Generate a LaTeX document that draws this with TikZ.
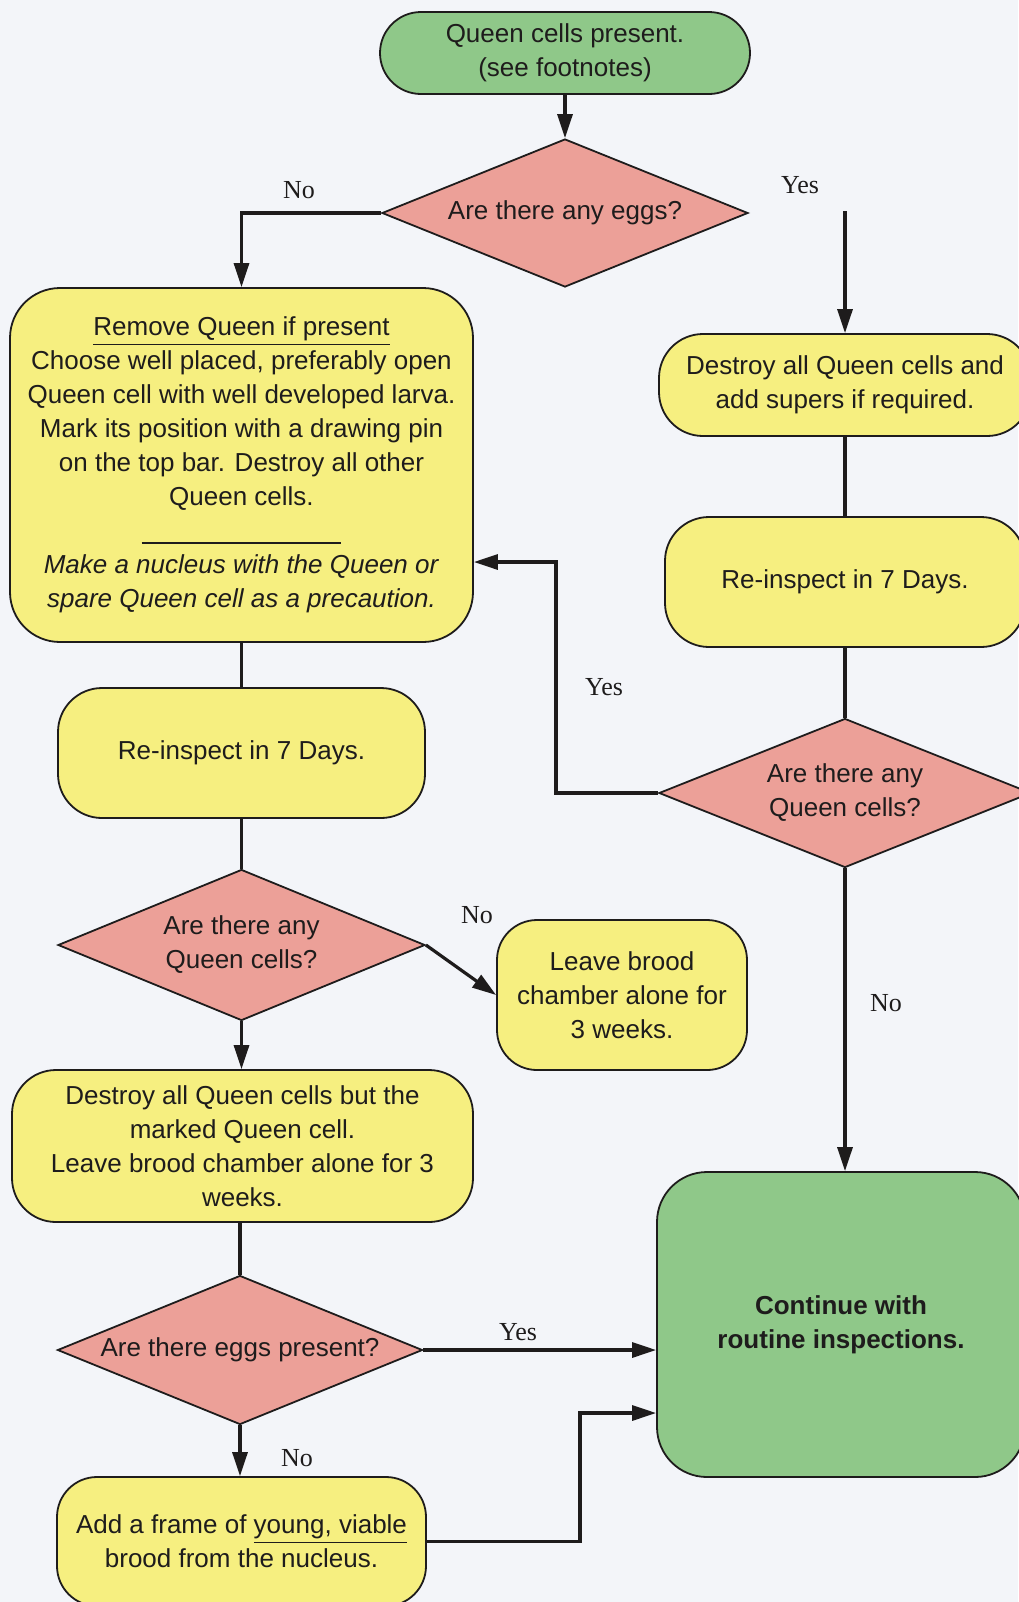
\documentclass[tikz,border=0pt]{standalone}
\usepackage{fontspec}
\setmainfont{Liberation Sans}
\newfontfamily\lblserif{Liberation Serif}
\usetikzlibrary{shapes.geometric,arrows.meta}
\definecolor{bgcol}{RGB}{243,245,249}
\definecolor{boxyellow}{RGB}{246,239,128}
\definecolor{boxgreen}{RGB}{143,200,137}
\definecolor{diapink}{RGB}{236,160,152}
\definecolor{inkcol}{RGB}{30,28,28}
\newcommand\fs{\fontsize{13pt}{17pt}\selectfont}
\tikzset{
  box/.style={draw=inkcol, text=inkcol, line width=0.9pt, rounded corners=22pt, align=center, inner sep=0pt, font=\fs},
  ybox/.style={box, fill=boxyellow},
  gbox/.style={box, fill=boxgreen},
  dia/.style={diamond, shape aspect=2.47, draw=inkcol, text=inkcol, line width=0.9pt, fill=diapink, inner sep=0pt, align=center, font=\fs},
  conn/.style={draw=inkcol, line width=1.6pt},
  arr/.style={conn, -{Triangle[length=12pt,width=7.5pt]}},
  lbl/.style={font=\lblserif\fontsize{13pt}{15pt}\selectfont, text=inkcol, inner sep=0pt},
}
\begin{document}
\begin{tikzpicture}[x=0.5pt,y=-0.5pt]
\useasboundingbox (0,0) rectangle (1018,1602);
\fill[bgcol] (0,0) rectangle (1018,1602);

% nodes
\node[gbox, rounded corners=20.5pt, minimum width=185pt, minimum height=41pt] (start) at (565,53) {Queen cells present.\\(see footnotes)};
\node[dia, minimum width=183pt, minimum height=74pt] (d1) at (565,213) {Are there any eggs?};

\node[ybox, rounded corners=25pt, minimum width=231.5pt, minimum height=177pt] (rem) at (241.5,465)
 {\underline{Remove Queen if present}\\
  Choose well placed, preferably open\\
  Queen cell with well developed larva.\\
  Mark its position with a drawing pin\\
  on the top bar. Destroy all other\\
  Queen cells.\\
  \rule[-2pt]{100pt}{0.8pt}\\
  \textit{Make a nucleus with the Queen or}\\
  \textit{spare Queen cell as a precaution.}};

\node[ybox, minimum width=186pt, minimum height=51pt] (dr) at (845,385) {Destroy all Queen cells and\\add supers if required.};
\node[ybox, minimum width=180pt, minimum height=65pt] (ri2) at (845,582) {Re-inspect in 7 Days.};
\node[dia, minimum width=186pt, minimum height=74.5pt] (dq2) at (845,793) {Are there any\\Queen cells?};
\node[gbox, rounded corners=25pt, minimum width=184pt, minimum height=152.5pt] (cont) at (841,1324.5) {\bfseries Continue with\\\bfseries routine inspections.};

\node[ybox, minimum width=183.5pt, minimum height=65pt] (ri1) at (241.5,753) {Re-inspect in 7 Days.};
\node[dia, minimum width=183.5pt, minimum height=75.5pt] (dq1) at (241.5,945) {Are there any\\Queen cells?};
\node[ybox, rounded corners=20pt, minimum width=125pt, minimum height=75pt] (lb) at (622,995) {Leave brood\\chamber alone for\\3 weeks.};
\node[ybox, minimum width=230.5pt, minimum height=76pt] (dl) at (242.5,1146) {Destroy all Queen cells but the\\marked Queen cell.\\Leave brood chamber alone for 3\\weeks.};
\node[dia, minimum width=182.5pt, minimum height=74.5pt] (dq3) at (240,1350) {Are there eggs present?};
\node[ybox, rounded corners=20pt, minimum width=184.5pt, minimum height=64.5pt] (add) at (241.5,1541.5) {Add a frame of \underline{young, viable}\\brood from the nucleus.};

% labels
\node[lbl] (lno1) at (299,190) {No};
\node[lbl] (lyes1) at (800,185) {Yes};
\node[lbl] (lyes2) at (604,687) {Yes};
\node[lbl] (lno2) at (477,915) {No};
\node[lbl] (lno3) at (886,1003) {No};
\node[lbl] (lyes3) at (518,1332) {Yes};
\node[lbl] (lno4) at (297,1458) {No};

% connectors
\coordinate (yesstart) at (845,211);
\coordinate (yl) at (556,562);
\coordinate (al) at (580,1413);
\draw[arr] (start) -- (d1);
\draw[arr] (d1.west) -| (rem.north);
\draw[arr] (yesstart) -- (yesstart |- dr.north);
\draw[conn] (dr) -- (ri2);
\draw[conn] (ri2) -- (dq2);
\draw[arr] (dq2.south) -- (dq2.south |- cont.north);
\draw[arr] (dq2.west) -| (yl) -- (yl -| rem.east);
\draw[conn] (rem) -- (ri1);
\draw[conn] (ri1) -- (dq1);
\draw[arr] (dq1.east) -- (lb.west);
\draw[arr] (dq1.south) -- (dq1.south |- dl.north);
\draw[conn] (dq3.north |- dl.south) -- (dq3.north);
\draw[arr] (dq3.east) -- (dq3.east -| cont.west);
\draw[arr] (dq3.south) -- (dq3.south |- add.north);
\draw[arr] (add.east) -| (al) -- (al -| cont.west);
\end{tikzpicture}
\end{document}
